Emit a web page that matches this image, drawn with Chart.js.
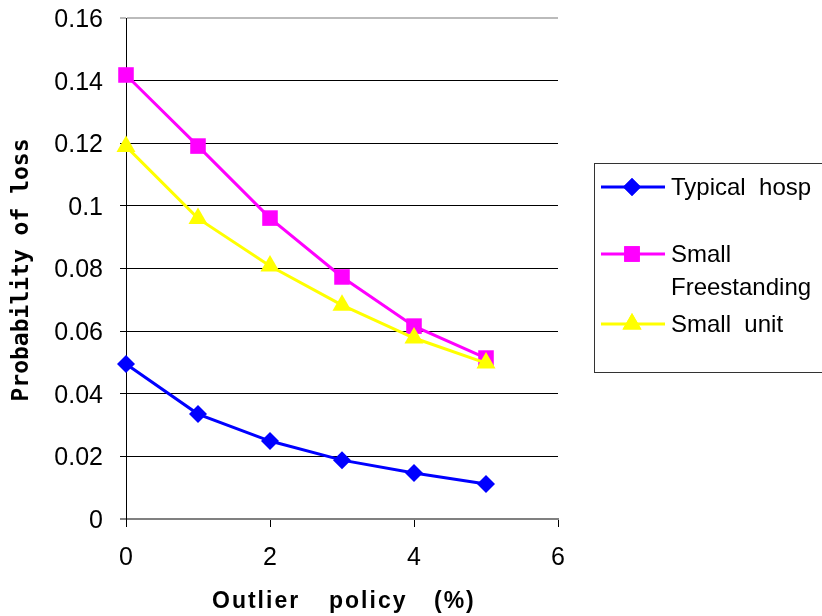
<!DOCTYPE html>
<html>
<head>
<meta charset="utf-8">
<script src="https://cdn.jsdelivr.net/npm/chart.js@4"></script>
<style>
  html, body { margin: 0; padding: 0; background: #fff; }
  #wrap { width: 822px; height: 616px; }
</style>
</head>
<body>
<div id="wrap"><canvas id="myChart" width="822" height="616"></canvas></div>
<script>
// outlier policy (%) on the x axis
var policy = [0, 1, 2, 3, 4, 5];

// probability of loss for each unit type
var typicalHosp = [0.0495, 0.0335, 0.0249, 0.0188, 0.0147, 0.0112];
var smallFreestanding = [0.1418, 0.1191, 0.0961, 0.0773, 0.0616, 0.0514];
var smallUnit = [0.119, 0.096, 0.0808, 0.0683, 0.0578, 0.0498];

var yTicks = [0, 0.02, 0.04, 0.06, 0.08, 0.1, 0.12, 0.14, 0.16];
var xTicks = [0, 2, 4, 6];

var legendItems = [
    { text: ['Typical  hosp'], color: '#0000FF', style: 'rectRot', radius: 9 },
    { text: ['Small', 'Freestanding'], color: '#FF00FF', style: 'rect', radius: 11 },
    { text: ['Small  unit'], color: '#FFFF00', style: 'triangle', radius: 11 }
];

function toPoints(vals) {
    var pts = [];
    for (var i = 0; i < vals.length; i++) {
        pts.push({ x: policy[i], y: vals[i] });
    }
    return pts;
}

// titles and the boxed legend on the right
const extras = {
    id: 'extras',
    afterDraw(chart) {
        const c = chart.ctx;
        c.save();
        c.fillStyle = '#000';
        c.textBaseline = 'middle';

        // x title, one word at a time for the wide gaps
        c.font = 'bold 23px "Liberation Sans", Arial, sans-serif';
        c.letterSpacing = '2px';
        c.textAlign = 'left';
        c.fillText('Outlier', 212, 602);
        c.fillText('policy', 329, 602);
        c.fillText('(%)', 434, 602);

        // y title
        c.save();
        c.translate(22, 270);
        c.rotate(-Math.PI / 2);
        c.textAlign = 'center';
        c.font = 'bold 23px "DejaVu Sans Mono", monospace';
        c.letterSpacing = '0px';
        c.fillText('Probability of loss', 0, 0);
        c.restore();

        // legend box
        c.letterSpacing = '0px';
        c.strokeStyle = '#333';
        c.lineWidth = 1;
        c.strokeRect(594.5, 163.5, 240, 209);

        var rows = [187, 254, 324];
        c.font = '24px "Liberation Sans", Arial, sans-serif';
        c.textAlign = 'left';
        for (var i = 0; i < legendItems.length; i++) {
            var it = legendItems[i];
            var y = rows[i];
            c.strokeStyle = it.color;
            c.lineWidth = 3;
            c.beginPath();
            c.moveTo(601, y);
            c.lineTo(665, y);
            c.stroke();
            c.fillStyle = it.color;
            Chart.helpers.drawPoint(c, { pointStyle: it.style, radius: it.radius, borderWidth: 0 }, 632, y);
            c.fill();
            c.fillStyle = '#000';
            for (var j = 0; j < it.text.length; j++) {
                c.fillText(it.text[j], 671, y + 1 + j * 33);
            }
        }
        c.restore();
    }
};

function ds(label, vals, color, style, radius, order) {
    return {
        label: label,
        data: toPoints(vals),
        borderColor: color,
        backgroundColor: color,
        borderWidth: 3,
        pointStyle: style,
        pointRadius: radius,
        pointHoverRadius: radius,
        pointBorderWidth: 0,
        tension: 0,
        clip: false,
        order: order
    };
}

const ctx = document.getElementById('myChart');

new Chart(ctx, {
    type: 'line',
    data: {
        datasets: [
            ds('Typical hosp', typicalHosp, '#0000FF', 'rectRot', 9, 2),
            ds('Small Freestanding', smallFreestanding, '#FF00FF', 'rect', 11, 1),
            ds('Small unit', smallUnit, '#FFFF00', 'triangle', 11, 0)
        ]
    },
    options: {
        responsive: false,
        animation: false,
        layout: { padding: { left: 0, right: 264, top: 18, bottom: 0 } },
        plugins: {
            legend: { display: false },
            tooltip: { enabled: false }
        },
        scales: {
            x: {
                type: 'linear',
                min: 0,
                max: 6,
                afterFit: (s) => {
                    s.height = 97;
                    s.paddingLeft = 0;
                    s.paddingRight = 0;
                },
                afterBuildTicks: (s) => { s.ticks = xTicks.map(v => ({ value: v })); },
                border: { color: '#808080', width: 2 },
                grid: { drawOnChartArea: false, drawTicks: true, tickLength: 8, color: '#000', lineWidth: 1 },
                ticks: {
                    color: '#000',
                    padding: 16,
                    maxRotation: 0,
                    font: { family: '"Liberation Sans", Arial, sans-serif', size: 25 }
                }
            },
            y: {
                min: 0,
                max: 0.16,
                afterFit: (s) => {
                    s.width = 126;
                    s.paddingTop = 0;
                    s.paddingBottom = 0;
                },
                afterBuildTicks: (s) => { s.ticks = yTicks.map(v => ({ value: v })); },
                border: { color: '#000', width: 1 },
                grid: {
                    tickLength: 6,
                    color: (c) => {
                        if (c.tick.value === 0) return '#808080';
                        if (c.tick.value === 0.16) return '#bbbbbb';
                        return '#000';
                    },
                    lineWidth: (c) => (c.tick.value === 0 || c.tick.value === 0.16) ? 2 : 1
                },
                ticks: {
                    color: '#000',
                    padding: 17,
                    labelOffset: 2,
                    font: { family: '"Liberation Sans", Arial, sans-serif', size: 25 },
                    callback: (v) => String(+v.toFixed(2))
                }
            }
        }
    },
    plugins: [extras]
});
</script>
</body>
</html>
